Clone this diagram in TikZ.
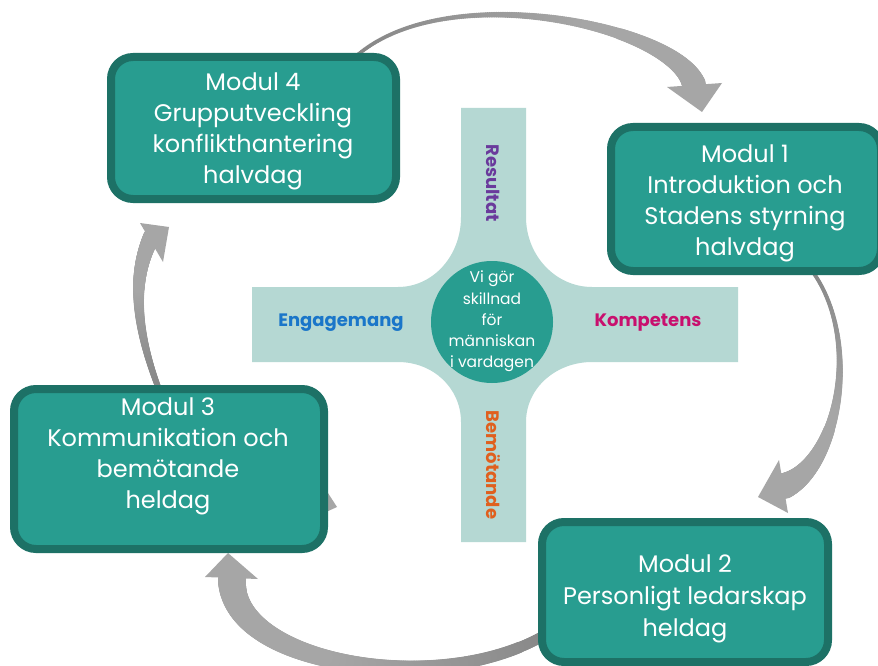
\documentclass[tikz,border=0pt]{standalone}
\usepackage{fontspec}
\setmainfont{Poppins}
\usetikzlibrary{calc}
\definecolor{tealfill}{HTML}{289D90}
\definecolor{tealborder}{HTML}{1D7166}
\definecolor{crosscol}{HTML}{B5D8D3}
\definecolor{arrowdark}{HTML}{858585}
\definecolor{arrowlight}{HTML}{A6A6A6}
\definecolor{rescol}{HTML}{6A3A9C}
\definecolor{engcol}{HTML}{1A76C9}
\definecolor{kompcol}{HTML}{C8106E}
\definecolor{bemcol}{HTML}{E0601E}
% #1 start, #2 control 1, #3 control 2, #4 end, #5 start width, #6 end width, #7 taper exponent
\newcommand\taperedarrow[7]{%
  \foreach \i in {0,...,200}{%
    \pgfmathsetmacro\tpos{\i/200}%
    \pgfmathsetmacro\rad{(#5+(#6-#5)*(\tpos^#7))/2}%
    \pgfmathsetmacro\mixv{100-min(100,170*\tpos)}%
    \path #1 .. controls #2 and #3 .. #4 coordinate[pos=\tpos] (q);
    \fill[arrowdark!\mixv!arrowlight] (q) circle[radius=\rad pt];
  }}
\begin{document}
\begin{tikzpicture}[x=1pt,y=-1pt,
  modbox/.style={draw=tealborder, fill=tealfill, line width=8pt, rounded corners=22pt, inner sep=0pt},
  modtext/.style={text=white, align=center, inner sep=0pt, font=\fontsize{24}{31}\selectfont},
  circtext/.style={text=white, align=center, inner sep=0pt, font=\fontsize{15.5}{21.3}\selectfont},
  axislabel/.style={inner sep=0pt, font=\fontsize{18}{20}\selectfont\bfseries},
  headtri/.style={fill=arrowlight}]
\useasboundingbox (0,0) rectangle (878,666);
\clip (0,0) rectangle (878,666);
\fill[white] (0,0) rectangle (878,666);

% arrows (behind boxes)
\coordinate (a1s) at (352,60);
\coordinate (a1e) at (694,85);
\taperedarrow{(a1s)}{(440,-25)}{(676,25)}{(a1e)}{4}{24}{2.5}
\fill[headtri] (667,87) coordinate (h1a) -- (722,83) coordinate (h1b) -- (702,112) coordinate (h1c) -- cycle;

\coordinate (a2s) at (805,262);
\coordinate (a2e) at (784,486);
\taperedarrow{(a2s)}{(865,330)}{(840,465)}{(a2e)}{4}{26}{2.5}
\fill[headtri] (779,460) coordinate (h2a) -- (758,497) coordinate (h2b) -- (788,513) coordinate (h2c) -- cycle;

\coordinate (a3s) at (560,625);
\coordinate (a3e) at (232,580);
\taperedarrow{(a3s)}{(460,700)}{(232,670)}{(a3e)}{11}{28}{1.8}
\fill[headtri] (205,577) coordinate (h3a) -- (258,579) coordinate (h3b) -- (228,553) coordinate (h3c) -- cycle;

\coordinate (a4s) at (160,392);
\coordinate (a4e) at (152,236);
\taperedarrow{(a4s)}{(132,320)}{(134,272)}{(a4e)}{6}{17}{1.3}
\fill[headtri] (140,223) coordinate (h4a) -- (169,227) coordinate (h4b) -- (163,262) coordinate (h4c) -- cycle;

\fill[headtri] (326,490) coordinate (s1) -- (337,507) coordinate (s2) -- (326,512) coordinate (s3) -- cycle;

% central cross
\fill[crosscol] (461,108) -- (526,108) -- (526,217)
  .. controls (526,256) and (556,287) .. (592,287) -- (738,287) -- (738,362) -- (592,362)
  .. controls (556,362) and (526,388) .. (526,422) -- (526,542) -- (461,542) -- (461,422)
  .. controls (461,388) and (433,362) .. (398,362) -- (252,362) -- (252,287) -- (398,287)
  .. controls (433,287) and (461,256) .. (461,217) -- cycle;
\node[circle, fill=tealfill, minimum size=122pt, inner sep=0pt] (core) at (492,322) {};
\node[circtext] (coretext) at (492,321.5) {Vi gör\\skillnad\\för\\människan\\i vardagen};

\node[axislabel, text=rescol, rotate=-90] (res) at (493,183) {Resultat};
\node[axislabel, text=bemcol, rotate=-90] (bem) at (493,465) {Bemötande};
\node[axislabel, text=engcol] (eng) at (341,323) {Engagemang};
\node[axislabel, text=kompcol] (komp) at (648,323) {Kompetens};

% module boxes
\node[modbox, minimum width=285pt, minimum height=142pt] (m4) at (253.5,128) {};
\node[modtext] (m4t) at (253,131.5) {Modul 4\\Grupputveckling\\konflikthantering\\halvdag};

\node[modbox, minimum width=270pt, minimum height=144pt] (m1) at (746,199) {};
\node[modtext] (m1t) at (745,203) {Modul 1\\Introduktion och\\Stadens styrning\\halvdag};

\node[modbox, minimum width=310pt, minimum height=160pt] (m3) at (169,469) {};
\node[modtext] (m3t) at (168,456.5) {Modul 3\\Kommunikation och\\bemötande\\heldag};

\node[modbox, minimum width=286pt, minimum height=140pt] (m2) at (685,592) {};
\node[modtext, font=\fontsize{24}{32}\selectfont] (m2t) at (685,599) {Modul 2\\Personligt ledarskap\\heldag};
\end{tikzpicture}
\end{document}
